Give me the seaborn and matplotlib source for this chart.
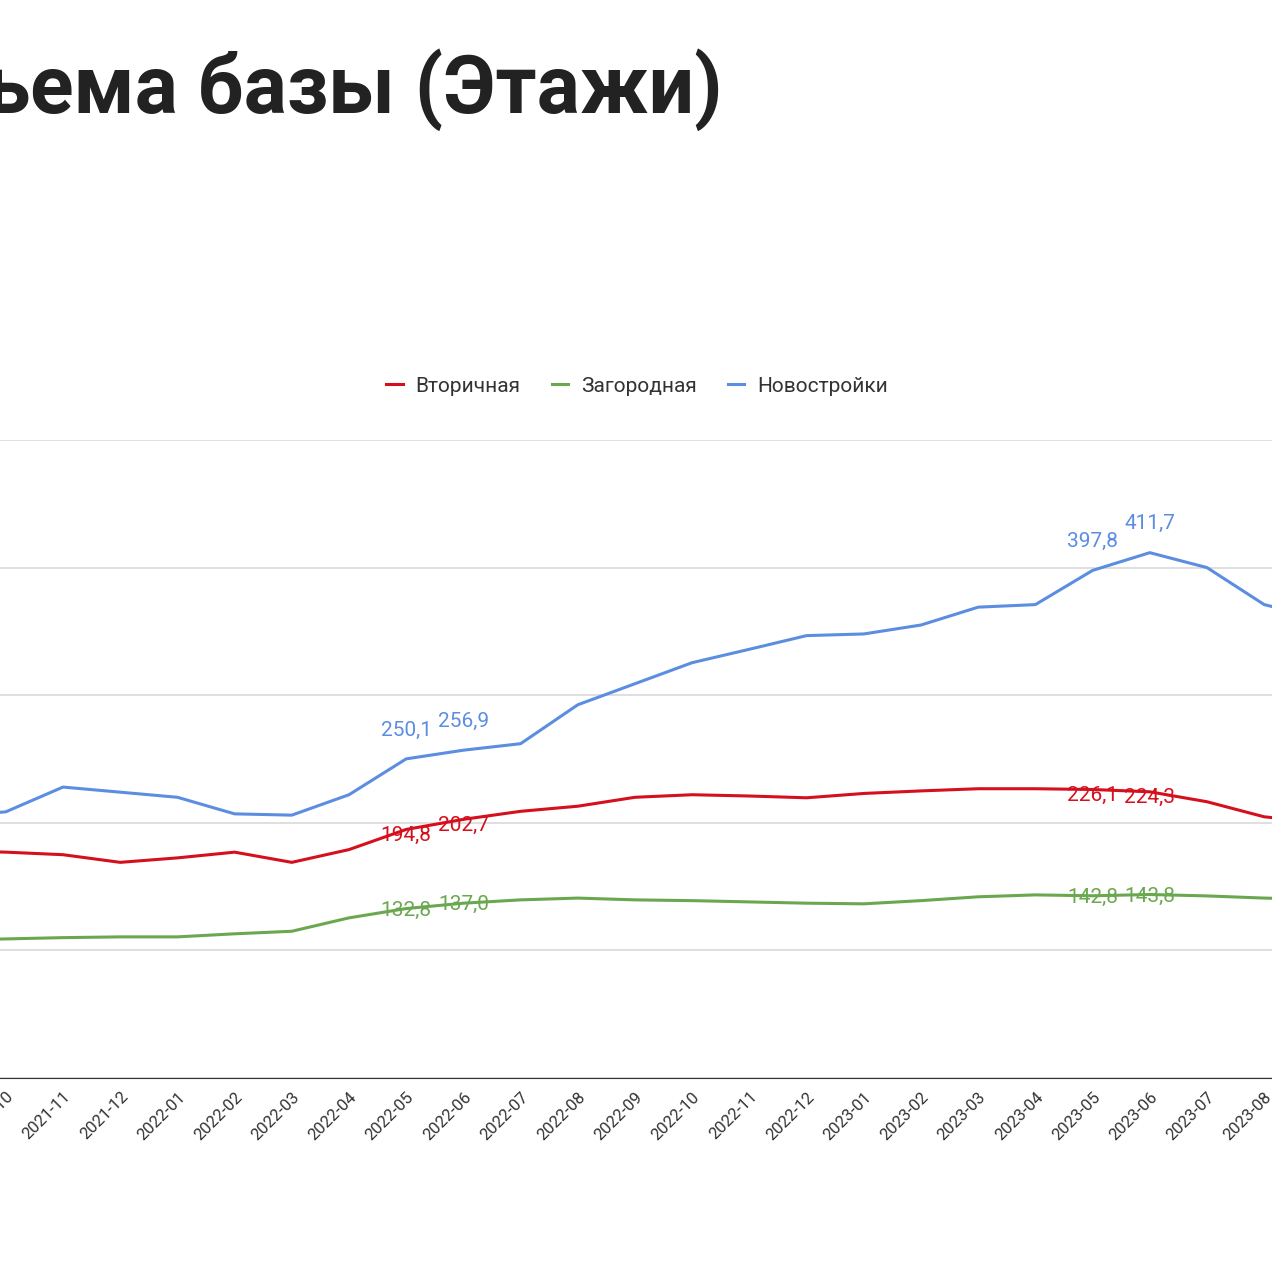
import pandas as pd
import seaborn as sns
import matplotlib.pyplot as plt

months = ['2021-09', '2021-10', '2021-11', '2021-12', '2022-01', '2022-02', '2022-03',
          '2022-04', '2022-05', '2022-06', '2022-07', '2022-08', '2022-09', '2022-10',
          '2022-11', '2022-12', '2023-01', '2023-02', '2023-03', '2023-04', '2023-05',
          '2023-06', '2023-07', '2023-08', '2023-09']
vtorichnaya = [178, 177, 175, 169, 172.5, 177, 169, 179, 194.8, 202.7, 209, 213, 220, 222,
               221, 219.6, 223, 225, 226.7, 226.7, 226.1, 224.3, 216.5, 204.7, 200]
zagorodnaya = [108, 109, 110, 110.6, 110.6, 113, 115, 125.5, 132.8, 137.0, 139.6, 141, 139.6,
               139, 138, 137, 136.5, 139, 142, 143.5, 142.8, 143.8, 142.7, 141, 140]
novostroyki = [205, 208.6, 228, 224, 220, 207, 206, 222, 250.1, 256.9, 262, 292.5, 309, 325.5,
               336, 346.7, 348, 355, 369, 371, 397.8, 411.7, 400, 371, 360]
labeled = ['2022-05', '2022-06', '2023-05', '2023-06']

series = {'Вторичная': vtorichnaya, 'Загородная': zagorodnaya, 'Новостройки': novostroyki}
colors = {'Вторичная': '#d50f1c', 'Загородная': '#6aa84f', 'Новостройки': '#5b8ee0'}

rows = []
for name, vals in series.items():
    for i, (m, v) in enumerate(zip(months, vals)):
        rows.append({'idx': i, 'month': m, 'value': v, 'series': name})
df = pd.DataFrame(rows)

plt.rcParams['font.family'] = 'Roboto'
fig = plt.figure(figsize=(12.72, 12.72), dpi=100)
ax = fig.add_axes([-80 / 1272, 194 / 1272, 1430 / 1272, 638 / 1272])
sns.lineplot(data=df, x='idx', y='value', hue='series', palette=colors, linewidth=2.2, ax=ax)

ax.set_xlim(-0.5, len(months) - 0.5)
ax.set_ylim(0, 500)
ax.set_yticks([0, 100, 200, 300, 400, 500])
ax.set_yticklabels([])
ax.tick_params(axis='y', length=0)
ax.grid(axis='y', color='#d9d9d9', linewidth=1.2)
ax.set_xticks(range(len(months)))
ax.set_xticklabels(months, rotation=45, ha='right', rotation_mode='anchor',
                   fontsize=12, color='#333333')
ax.tick_params(axis='x', length=0, pad=8)
for s in ['top', 'right', 'left']:
    ax.spines[s].set_visible(False)
ax.spines['bottom'].set_color('#333333')
ax.set_xlabel('')
ax.set_ylabel('')

offsets = {'Новостройки': 14, 'Вторичная': -4, 'Загородная': -1}
for name, vals in series.items():
    for m in labeled:
        i = months.index(m)
        dy = offsets[name]
        ax.annotate(f'{vals[i]:.1f}'.replace('.', ','), (i, vals[i]), xytext=(0, dy),
                    textcoords='offset points', ha='center',
                    va='bottom' if dy > 5 else 'center',
                    fontsize=15, color=colors[name])

handles, labels = ax.get_legend_handles_labels()
ax.legend(handles, labels, loc='center', bbox_to_anchor=(637 / 1272, 886 / 1272),
          bbox_transform=fig.transFigure, ncol=3, frameon=False, fontsize=15,
          handlelength=0.8, handletextpad=0.6, columnspacing=1.5, labelcolor='#333333')

fig.text(722 / 1272, 1 - 90 / 1272, 'Динамика объема базы (Этажи)', ha='right', va='center',
         fontsize=58, fontweight='bold', color='#222222')

fig.savefig('out.png', dpi=100)
